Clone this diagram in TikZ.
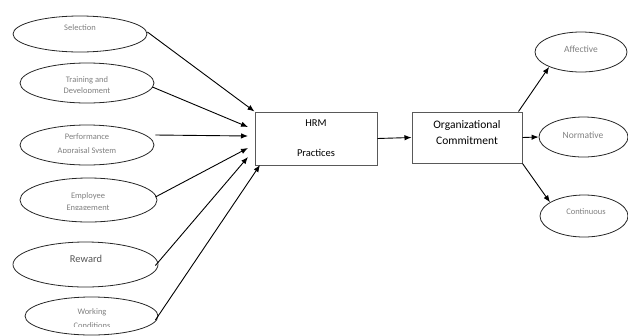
\documentclass[tikz,border=0pt]{standalone}
\usepackage{fontspec}
\setmainfont{Carlito}
\usetikzlibrary{shapes.geometric,arrows.meta,calc}
\definecolor{txtgray}{RGB}{128,128,128}
\definecolor{txtdark}{RGB}{85,85,85}
\tikzset{
  oval/.style={ellipse, draw=black!85, line width=0.8pt, inner sep=0pt},
  ltxt/.style={text=txtgray, font=\fontsize{8.5}{10}\selectfont, inner sep=0pt},
  rtxt/.style={text=txtgray, font=\fontsize{9.5}{11}\selectfont, inner sep=0pt},
  btxt/.style={text=black, font=\fontsize{10.5}{12}\selectfont, inner sep=0pt},
  box/.style={draw=black!65, line width=1pt, fill=white, inner sep=0pt},
  conn/.style={draw=black, line width=0.9pt, -{Latex[length=7pt,width=5.5pt]}},
}
\begin{document}
\begin{tikzpicture}[x=1pt,y=-1pt]
\useasboundingbox (0,0) rectangle (628,335);
% left ellipses
\node[oval, minimum width=134pt, minimum height=36pt] (sel) at (80,34) {};
\node[oval, minimum width=134pt, minimum height=40pt] (tr) at (87,83) {};
\node[oval, minimum width=134pt, minimum height=40pt] (perf) at (87,145) {};
\node[oval, minimum width=137pt, minimum height=44pt] (emp) at (88.5,200) {};
\node[oval, minimum width=145pt, minimum height=45pt] (rew) at (85.5,264.5) {};
\node[oval, minimum width=133pt, minimum height=38pt] (work) at (91.5,316) {};
% left texts
\node[ltxt] (selt) at (80,28) {Selection};
\begin{scope}
\clip (20,70) rectangle (155,92.5);
\node[ltxt] (trt1) at (87,80) {Training and};
\node[ltxt] (trt2) at (87,91.5) {Development};
\end{scope}
\begin{scope}
\clip (20,128) rectangle (155,152);
\node[ltxt] (perft1) at (87,137) {Performance};
\node[ltxt] (perft2) at (87,151) {Appraisal System};
\end{scope}
\begin{scope}
\clip (20,186) rectangle (157,209.5);
\node[ltxt] (empt1) at (88,196) {Employee};
\node[ltxt] (empt2) at (88,208.5) {Engagement};
\end{scope}
\node[btxt, text=txtdark] (rewt) at (86,259) {Reward};
\begin{scope}
\clip (25,303) rectangle (158,326);
\node[ltxt] (workt1) at (92,312) {Working};
\node[ltxt] (workt2) at (92,325.5) {Conditions};
\end{scope}
% boxes
\node[box, minimum width=122pt, minimum height=53pt] (hrm) at (316,138.5) {};
\node[btxt] (hrmt1) at (316,123) {HRM};
\node[btxt] (hrmt2) at (316,153) {Practices};
\node[box, minimum width=110pt, minimum height=51pt] (org) at (467,137.5) {};
\node[btxt, font=\fontsize{11.5}{13}\selectfont] (orgt1) at (467,125) {Organizational};
\node[btxt, font=\fontsize{11.5}{13}\selectfont] (orgt2) at (467,140.5) {Commitment};
% right ellipses
\node[oval, minimum width=92pt, minimum height=40pt] (aff) at (581,52) {};
\node[oval, minimum width=89pt, minimum height=40pt] (norm) at (583.5,137) {};
\node[oval, minimum width=88pt, minimum height=42pt] (cont) at (584,216) {};
\node[rtxt] (afft) at (581,49) {Affective};
\node[rtxt] (normt) at (583,135) {Normative};
\node[rtxt, font=\fontsize{8.5}{10}\selectfont] (contt) at (586,212) {Continuous};
% arrow targets on HRM box
\coordinate (h2) at (248,127);
\coordinate (h3) at (248,136);
\coordinate (h4) at (248,148);
\coordinate (h5) at (248,157);
\coordinate (h6) at (260,165);
% connectors
\draw[conn] ($(sel.east)+(0,-2)$) -- (hrm.north west);
\draw[conn] ($(tr.east)+(-2,4)$) -- (h2);
\draw[conn] ($(perf.east)+(1,-10)$) -- (h3);
\draw[conn] ($(emp.east)+(-2,-3)$) -- (h4);
\draw[conn] ($(rew.east)+(-3,1)$) -- (h5);
\draw[conn] ($(work.east)+(-3,4)$) -- (h6);
\draw[conn] (hrm.east) -- (org.west);
\draw[conn] ($(org.north east)+(-4,0)$) -- (aff.205);
\draw[conn] (org.east) -- (norm.west);
\draw[conn] (org.south east) -- (cont.158);
\end{tikzpicture}
\end{document}
